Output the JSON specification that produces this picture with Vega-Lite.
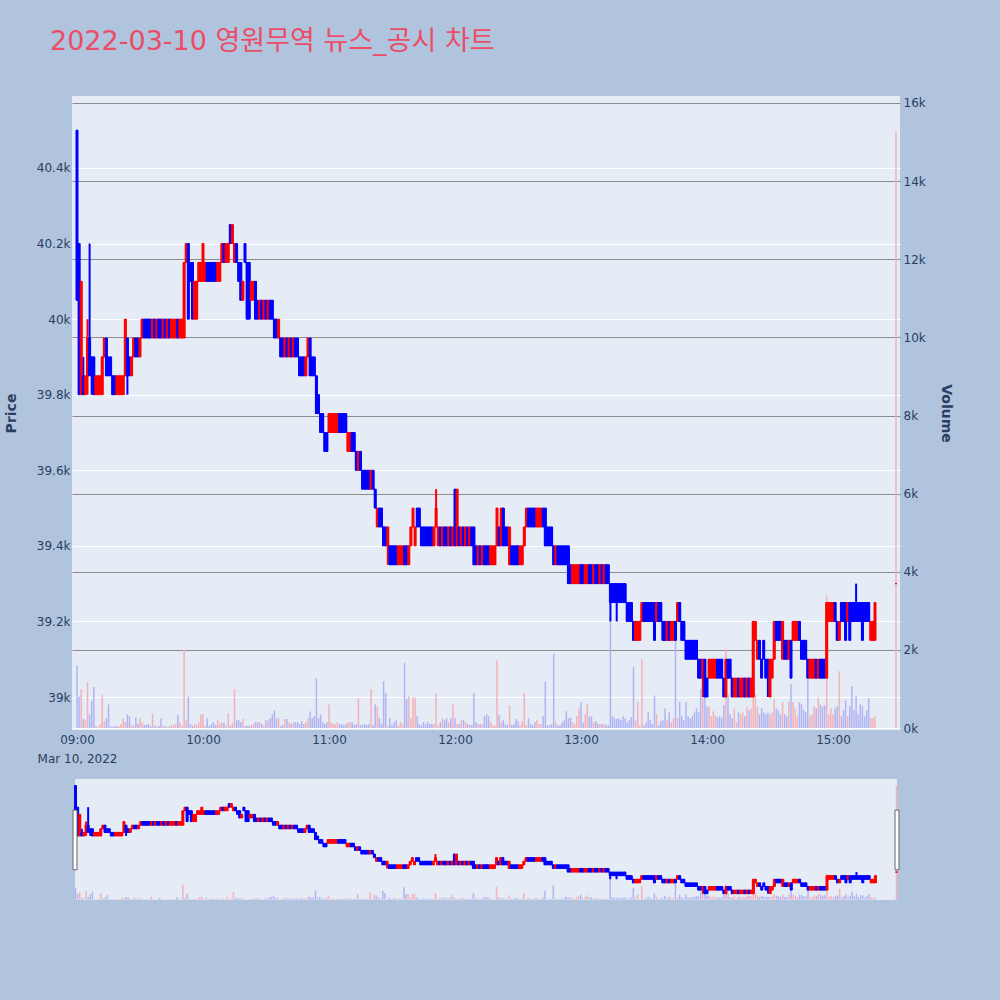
{
  "$schema": "https://vega.github.io/schema/vega-lite/v6.json",
  "autosize": {"type": "none"},
  "padding": {"left": 72, "top": 96, "right": 928, "bottom": 904},
  "background": "#b0c4de",
  "config": {
    "view": {"fill": "#e5ecf6", "stroke": null},
    "font": "DejaVu Sans",
    "axis": {"labelFont": "DejaVu Sans", "titleFont": "DejaVu Sans", "labelColor": "#2a3f5f", "titleColor": "#2a3f5f", "labelFontSize": 12, "titleFontSize": 14}
  },
  "title": {
    "text": "2022-03-10 영원무역 뉴스_공시 차트",
    "anchor": "start",
    "frame": "group",
    "font": "DejaVu Sans, Noto Sans CJK KR",
    "fontSize": 27,
    "fontWeight": "normal",
    "color": "#eb4d67",
    "dx": -22,
    "offset": 40
  },
  "data": {
    "values": [
      {"t":"2022-03-10T09:00","o":40500,"h":40500,"l":40050,"c":40050,"v":1600},
      {"t":"2022-03-10T09:01","o":40200,"h":40200,"l":39800,"c":39800,"v":800},
      {"t":"2022-03-10T09:02","o":39800,"h":40100,"l":39800,"c":40100,"v":1000},
      {"t":"2022-03-10T09:03","o":39850,"h":39900,"l":39800,"c":39800,"v":230},
      {"t":"2022-03-10T09:04","o":39800,"h":39850,"l":39800,"c":39850,"v":200},
      {"t":"2022-03-10T09:05","o":39850,"h":40000,"l":39800,"c":39950,"v":1170},
      {"t":"2022-03-10T09:06","o":39950,"h":40200,"l":39850,"c":39850,"v":350},
      {"t":"2022-03-10T09:07","o":39900,"h":39900,"l":39800,"c":39850,"v":700},
      {"t":"2022-03-10T09:08","o":39900,"h":39900,"l":39800,"c":39800,"v":1050},
      {"t":"2022-03-10T09:09","o":39800,"h":39850,"l":39800,"c":39850,"v":60},
      {"t":"2022-03-10T09:10","o":39800,"h":39850,"l":39800,"c":39850,"v":30},
      {"t":"2022-03-10T09:11","o":39800,"h":39850,"l":39800,"c":39850,"v":100},
      {"t":"2022-03-10T09:12","o":39800,"h":39900,"l":39800,"c":39900,"v":860},
      {"t":"2022-03-10T09:13","o":39900,"h":39950,"l":39900,"c":39950,"v":170},
      {"t":"2022-03-10T09:14","o":39950,"h":39950,"l":39850,"c":39850,"v":250},
      {"t":"2022-03-10T09:15","o":39900,"h":39900,"l":39850,"c":39850,"v":600},
      {"t":"2022-03-10T09:16","o":39900,"h":39900,"l":39850,"c":39850,"v":40},
      {"t":"2022-03-10T09:17","o":39850,"h":39850,"l":39800,"c":39800,"v":30},
      {"t":"2022-03-10T09:18","o":39850,"h":39850,"l":39800,"c":39800,"v":50},
      {"t":"2022-03-10T09:19","o":39800,"h":39850,"l":39800,"c":39850,"v":50},
      {"t":"2022-03-10T09:20","o":39800,"h":39850,"l":39800,"c":39850,"v":40},
      {"t":"2022-03-10T09:21","o":39800,"h":39850,"l":39800,"c":39850,"v":100},
      {"t":"2022-03-10T09:22","o":39800,"h":39850,"l":39800,"c":39850,"v":250},
      {"t":"2022-03-10T09:23","o":39850,"h":40000,"l":39850,"c":40000,"v":150},
      {"t":"2022-03-10T09:24","o":39950,"h":39950,"l":39800,"c":39850,"v":350},
      {"t":"2022-03-10T09:25","o":39900,"h":39900,"l":39850,"c":39850,"v":300},
      {"t":"2022-03-10T09:26","o":39850,"h":39900,"l":39850,"c":39900,"v":80},
      {"t":"2022-03-10T09:27","o":39900,"h":39950,"l":39900,"c":39950,"v":60},
      {"t":"2022-03-10T09:28","o":39950,"h":39950,"l":39900,"c":39900,"v":270},
      {"t":"2022-03-10T09:29","o":39950,"h":39950,"l":39900,"c":39900,"v":100},
      {"t":"2022-03-10T09:30","o":39900,"h":39950,"l":39900,"c":39950,"v":250},
      {"t":"2022-03-10T09:31","o":39950,"h":40000,"l":39950,"c":40000,"v":150},
      {"t":"2022-03-10T09:32","o":40000,"h":40000,"l":39950,"c":39950,"v":80},
      {"t":"2022-03-10T09:33","o":40000,"h":40000,"l":39950,"c":39950,"v":80},
      {"t":"2022-03-10T09:34","o":40000,"h":40000,"l":39950,"c":39950,"v":100},
      {"t":"2022-03-10T09:35","o":40000,"h":40000,"l":39950,"c":39950,"v":50},
      {"t":"2022-03-10T09:36","o":39950,"h":40000,"l":39950,"c":40000,"v":370},
      {"t":"2022-03-10T09:37","o":40000,"h":40000,"l":39950,"c":39950,"v":60},
      {"t":"2022-03-10T09:38","o":39950,"h":40000,"l":39950,"c":40000,"v":40},
      {"t":"2022-03-10T09:39","o":40000,"h":40000,"l":39950,"c":39950,"v":50},
      {"t":"2022-03-10T09:40","o":40000,"h":40000,"l":39950,"c":39950,"v":250},
      {"t":"2022-03-10T09:41","o":39950,"h":40000,"l":39950,"c":40000,"v":60},
      {"t":"2022-03-10T09:42","o":40000,"h":40000,"l":39950,"c":39950,"v":40},
      {"t":"2022-03-10T09:43","o":39950,"h":40000,"l":39950,"c":40000,"v":30},
      {"t":"2022-03-10T09:44","o":40000,"h":40000,"l":39950,"c":39950,"v":40},
      {"t":"2022-03-10T09:45","o":39950,"h":40000,"l":39950,"c":40000,"v":70},
      {"t":"2022-03-10T09:46","o":39950,"h":40000,"l":39950,"c":40000,"v":70},
      {"t":"2022-03-10T09:47","o":39950,"h":40000,"l":39950,"c":40000,"v":100},
      {"t":"2022-03-10T09:48","o":40000,"h":40000,"l":39950,"c":39950,"v":330},
      {"t":"2022-03-10T09:49","o":39950,"h":40000,"l":39950,"c":40000,"v":150},
      {"t":"2022-03-10T09:50","o":39950,"h":40000,"l":39950,"c":40000,"v":60},
      {"t":"2022-03-10T09:51","o":39950,"h":40150,"l":39950,"c":40150,"v":2000},
      {"t":"2022-03-10T09:52","o":40150,"h":40200,"l":40150,"c":40200,"v":200},
      {"t":"2022-03-10T09:53","o":40200,"h":40200,"l":40000,"c":40000,"v":800},
      {"t":"2022-03-10T09:54","o":40150,"h":40150,"l":40100,"c":40100,"v":100},
      {"t":"2022-03-10T09:55","o":40150,"h":40150,"l":40000,"c":40000,"v":60},
      {"t":"2022-03-10T09:56","o":40000,"h":40100,"l":40000,"c":40100,"v":100},
      {"t":"2022-03-10T09:57","o":40000,"h":40100,"l":40000,"c":40100,"v":80},
      {"t":"2022-03-10T09:58","o":40100,"h":40150,"l":40100,"c":40150,"v":150},
      {"t":"2022-03-10T09:59","o":40100,"h":40150,"l":40100,"c":40150,"v":350},
      {"t":"2022-03-10T10:00","o":40100,"h":40200,"l":40100,"c":40200,"v":350},
      {"t":"2022-03-10T10:01","o":40100,"h":40150,"l":40100,"c":40150,"v":60},
      {"t":"2022-03-10T10:02","o":40150,"h":40150,"l":40100,"c":40100,"v":250},
      {"t":"2022-03-10T10:03","o":40150,"h":40150,"l":40100,"c":40100,"v":50},
      {"t":"2022-03-10T10:04","o":40150,"h":40150,"l":40100,"c":40100,"v":100},
      {"t":"2022-03-10T10:05","o":40150,"h":40150,"l":40100,"c":40100,"v":150},
      {"t":"2022-03-10T10:06","o":40150,"h":40150,"l":40100,"c":40100,"v":80},
      {"t":"2022-03-10T10:07","o":40100,"h":40150,"l":40100,"c":40150,"v":200},
      {"t":"2022-03-10T10:08","o":40100,"h":40150,"l":40100,"c":40150,"v":100},
      {"t":"2022-03-10T10:09","o":40150,"h":40200,"l":40150,"c":40200,"v":150},
      {"t":"2022-03-10T10:10","o":40200,"h":40200,"l":40150,"c":40150,"v":130},
      {"t":"2022-03-10T10:11","o":40150,"h":40200,"l":40150,"c":40200,"v":50},
      {"t":"2022-03-10T10:12","o":40150,"h":40200,"l":40150,"c":40200,"v":380},
      {"t":"2022-03-10T10:13","o":40250,"h":40250,"l":40200,"c":40200,"v":60},
      {"t":"2022-03-10T10:14","o":40200,"h":40250,"l":40200,"c":40250,"v":120},
      {"t":"2022-03-10T10:15","o":40150,"h":40200,"l":40150,"c":40200,"v":1000},
      {"t":"2022-03-10T10:16","o":40200,"h":40200,"l":40150,"c":40150,"v":200},
      {"t":"2022-03-10T10:17","o":40150,"h":40150,"l":40100,"c":40100,"v":200},
      {"t":"2022-03-10T10:18","o":40150,"h":40150,"l":40050,"c":40050,"v":150},
      {"t":"2022-03-10T10:19","o":40050,"h":40100,"l":40050,"c":40100,"v":230},
      {"t":"2022-03-10T10:20","o":40200,"h":40200,"l":40150,"c":40150,"v":50},
      {"t":"2022-03-10T10:21","o":40150,"h":40150,"l":40000,"c":40000,"v":50},
      {"t":"2022-03-10T10:22","o":40150,"h":40150,"l":40000,"c":40000,"v":50},
      {"t":"2022-03-10T10:23","o":40050,"h":40100,"l":40050,"c":40100,"v":80},
      {"t":"2022-03-10T10:24","o":40050,"h":40100,"l":40050,"c":40100,"v":100},
      {"t":"2022-03-10T10:25","o":40100,"h":40100,"l":40000,"c":40000,"v":150},
      {"t":"2022-03-10T10:26","o":40050,"h":40050,"l":40000,"c":40000,"v":150},
      {"t":"2022-03-10T10:27","o":40000,"h":40050,"l":40000,"c":40050,"v":150},
      {"t":"2022-03-10T10:28","o":40050,"h":40050,"l":40000,"c":40000,"v":100},
      {"t":"2022-03-10T10:29","o":40000,"h":40050,"l":40000,"c":40050,"v":50},
      {"t":"2022-03-10T10:30","o":40050,"h":40050,"l":40000,"c":40000,"v":200},
      {"t":"2022-03-10T10:31","o":40000,"h":40050,"l":40000,"c":40050,"v":200},
      {"t":"2022-03-10T10:32","o":40050,"h":40050,"l":40000,"c":40000,"v":250},
      {"t":"2022-03-10T10:33","o":40050,"h":40050,"l":40000,"c":40000,"v":350},
      {"t":"2022-03-10T10:34","o":40000,"h":40000,"l":39950,"c":39950,"v":450},
      {"t":"2022-03-10T10:35","o":40000,"h":40000,"l":39950,"c":39950,"v":250},
      {"t":"2022-03-10T10:36","o":39950,"h":40000,"l":39950,"c":40000,"v":250},
      {"t":"2022-03-10T10:37","o":39950,"h":39950,"l":39900,"c":39900,"v":50},
      {"t":"2022-03-10T10:38","o":39950,"h":39950,"l":39900,"c":39900,"v":80},
      {"t":"2022-03-10T10:39","o":39900,"h":39950,"l":39900,"c":39950,"v":230},
      {"t":"2022-03-10T10:40","o":39950,"h":39950,"l":39900,"c":39900,"v":230},
      {"t":"2022-03-10T10:41","o":39900,"h":39950,"l":39900,"c":39950,"v":150},
      {"t":"2022-03-10T10:42","o":39950,"h":39950,"l":39900,"c":39900,"v":100},
      {"t":"2022-03-10T10:43","o":39900,"h":39950,"l":39900,"c":39950,"v":150},
      {"t":"2022-03-10T10:44","o":39950,"h":39950,"l":39900,"c":39900,"v":150},
      {"t":"2022-03-10T10:45","o":39950,"h":39950,"l":39900,"c":39900,"v":150},
      {"t":"2022-03-10T10:46","o":39900,"h":39900,"l":39850,"c":39850,"v":100},
      {"t":"2022-03-10T10:47","o":39900,"h":39900,"l":39850,"c":39850,"v":180},
      {"t":"2022-03-10T10:48","o":39900,"h":39900,"l":39850,"c":39850,"v":100},
      {"t":"2022-03-10T10:49","o":39850,"h":39900,"l":39850,"c":39900,"v":150},
      {"t":"2022-03-10T10:50","o":39900,"h":39950,"l":39900,"c":39950,"v":250},
      {"t":"2022-03-10T10:51","o":39950,"h":39950,"l":39850,"c":39850,"v":420},
      {"t":"2022-03-10T10:52","o":39900,"h":39900,"l":39850,"c":39850,"v":250},
      {"t":"2022-03-10T10:53","o":39900,"h":39900,"l":39850,"c":39850,"v":300},
      {"t":"2022-03-10T10:54","o":39850,"h":39850,"l":39750,"c":39750,"v":1270},
      {"t":"2022-03-10T10:55","o":39800,"h":39800,"l":39750,"c":39750,"v":250},
      {"t":"2022-03-10T10:56","o":39750,"h":39750,"l":39700,"c":39700,"v":350},
      {"t":"2022-03-10T10:57","o":39750,"h":39750,"l":39700,"c":39700,"v":150},
      {"t":"2022-03-10T10:58","o":39700,"h":39700,"l":39650,"c":39650,"v":100},
      {"t":"2022-03-10T10:59","o":39700,"h":39700,"l":39650,"c":39650,"v":150},
      {"t":"2022-03-10T11:00","o":39700,"h":39750,"l":39700,"c":39750,"v":600},
      {"t":"2022-03-10T11:01","o":39700,"h":39750,"l":39700,"c":39750,"v":150},
      {"t":"2022-03-10T11:02","o":39700,"h":39750,"l":39700,"c":39750,"v":100},
      {"t":"2022-03-10T11:03","o":39700,"h":39750,"l":39700,"c":39750,"v":100},
      {"t":"2022-03-10T11:04","o":39700,"h":39750,"l":39700,"c":39750,"v":150},
      {"t":"2022-03-10T11:05","o":39750,"h":39750,"l":39700,"c":39700,"v":100},
      {"t":"2022-03-10T11:06","o":39750,"h":39750,"l":39700,"c":39700,"v":100},
      {"t":"2022-03-10T11:07","o":39750,"h":39750,"l":39700,"c":39700,"v":80},
      {"t":"2022-03-10T11:08","o":39750,"h":39750,"l":39700,"c":39700,"v":100},
      {"t":"2022-03-10T11:09","o":39650,"h":39700,"l":39650,"c":39700,"v":150},
      {"t":"2022-03-10T11:10","o":39650,"h":39700,"l":39650,"c":39700,"v":150},
      {"t":"2022-03-10T11:11","o":39700,"h":39700,"l":39650,"c":39650,"v":150},
      {"t":"2022-03-10T11:12","o":39700,"h":39700,"l":39650,"c":39650,"v":80},
      {"t":"2022-03-10T11:13","o":39650,"h":39650,"l":39600,"c":39600,"v":100},
      {"t":"2022-03-10T11:14","o":39600,"h":39650,"l":39600,"c":39650,"v":760},
      {"t":"2022-03-10T11:15","o":39650,"h":39650,"l":39600,"c":39600,"v":80},
      {"t":"2022-03-10T11:16","o":39600,"h":39600,"l":39550,"c":39550,"v":80},
      {"t":"2022-03-10T11:17","o":39600,"h":39600,"l":39550,"c":39550,"v":100},
      {"t":"2022-03-10T11:18","o":39600,"h":39600,"l":39550,"c":39550,"v":80},
      {"t":"2022-03-10T11:19","o":39600,"h":39600,"l":39550,"c":39550,"v":100},
      {"t":"2022-03-10T11:20","o":39550,"h":39600,"l":39550,"c":39600,"v":1000},
      {"t":"2022-03-10T11:21","o":39600,"h":39600,"l":39550,"c":39550,"v":80},
      {"t":"2022-03-10T11:22","o":39550,"h":39550,"l":39500,"c":39500,"v":600},
      {"t":"2022-03-10T11:23","o":39450,"h":39500,"l":39450,"c":39500,"v":550},
      {"t":"2022-03-10T11:24","o":39500,"h":39500,"l":39450,"c":39450,"v":250},
      {"t":"2022-03-10T11:25","o":39500,"h":39500,"l":39450,"c":39450,"v":100},
      {"t":"2022-03-10T11:26","o":39450,"h":39450,"l":39400,"c":39400,"v":1200},
      {"t":"2022-03-10T11:27","o":39450,"h":39450,"l":39400,"c":39400,"v":900},
      {"t":"2022-03-10T11:28","o":39400,"h":39450,"l":39350,"c":39450,"v":50},
      {"t":"2022-03-10T11:29","o":39400,"h":39400,"l":39350,"c":39350,"v":250},
      {"t":"2022-03-10T11:30","o":39400,"h":39400,"l":39350,"c":39350,"v":80},
      {"t":"2022-03-10T11:31","o":39400,"h":39400,"l":39350,"c":39350,"v":150},
      {"t":"2022-03-10T11:32","o":39400,"h":39400,"l":39350,"c":39350,"v":200},
      {"t":"2022-03-10T11:33","o":39350,"h":39400,"l":39350,"c":39400,"v":60},
      {"t":"2022-03-10T11:34","o":39350,"h":39400,"l":39350,"c":39400,"v":150},
      {"t":"2022-03-10T11:35","o":39350,"h":39400,"l":39350,"c":39400,"v":100},
      {"t":"2022-03-10T11:36","o":39400,"h":39400,"l":39350,"c":39350,"v":1670},
      {"t":"2022-03-10T11:37","o":39400,"h":39400,"l":39350,"c":39350,"v":740},
      {"t":"2022-03-10T11:38","o":39350,"h":39400,"l":39350,"c":39400,"v":800},
      {"t":"2022-03-10T11:39","o":39400,"h":39450,"l":39400,"c":39450,"v":250},
      {"t":"2022-03-10T11:40","o":39450,"h":39500,"l":39450,"c":39500,"v":780},
      {"t":"2022-03-10T11:41","o":39400,"h":39450,"l":39400,"c":39450,"v":780},
      {"t":"2022-03-10T11:42","o":39500,"h":39500,"l":39450,"c":39450,"v":300},
      {"t":"2022-03-10T11:43","o":39500,"h":39500,"l":39450,"c":39450,"v":100},
      {"t":"2022-03-10T11:44","o":39450,"h":39450,"l":39400,"c":39400,"v":60},
      {"t":"2022-03-10T11:45","o":39450,"h":39450,"l":39400,"c":39400,"v":150},
      {"t":"2022-03-10T11:46","o":39450,"h":39450,"l":39400,"c":39400,"v":100},
      {"t":"2022-03-10T11:47","o":39450,"h":39450,"l":39400,"c":39400,"v":150},
      {"t":"2022-03-10T11:48","o":39450,"h":39450,"l":39400,"c":39400,"v":100},
      {"t":"2022-03-10T11:49","o":39450,"h":39450,"l":39400,"c":39400,"v":100},
      {"t":"2022-03-10T11:50","o":39400,"h":39450,"l":39400,"c":39450,"v":100},
      {"t":"2022-03-10T11:51","o":39450,"h":39550,"l":39450,"c":39500,"v":880},
      {"t":"2022-03-10T11:52","o":39400,"h":39450,"l":39400,"c":39450,"v":60},
      {"t":"2022-03-10T11:53","o":39450,"h":39450,"l":39400,"c":39400,"v":150},
      {"t":"2022-03-10T11:54","o":39400,"h":39450,"l":39400,"c":39450,"v":250},
      {"t":"2022-03-10T11:55","o":39450,"h":39450,"l":39400,"c":39400,"v":200},
      {"t":"2022-03-10T11:56","o":39450,"h":39450,"l":39400,"c":39400,"v":250},
      {"t":"2022-03-10T11:57","o":39400,"h":39450,"l":39400,"c":39450,"v":150},
      {"t":"2022-03-10T11:58","o":39450,"h":39450,"l":39400,"c":39400,"v":250},
      {"t":"2022-03-10T11:59","o":39400,"h":39450,"l":39400,"c":39450,"v":600},
      {"t":"2022-03-10T12:00","o":39550,"h":39550,"l":39400,"c":39400,"v":250},
      {"t":"2022-03-10T12:01","o":39400,"h":39550,"l":39400,"c":39550,"v":100},
      {"t":"2022-03-10T12:02","o":39450,"h":39450,"l":39400,"c":39400,"v":100},
      {"t":"2022-03-10T12:03","o":39400,"h":39450,"l":39400,"c":39450,"v":200},
      {"t":"2022-03-10T12:04","o":39450,"h":39450,"l":39400,"c":39400,"v":200},
      {"t":"2022-03-10T12:05","o":39400,"h":39450,"l":39400,"c":39450,"v":150},
      {"t":"2022-03-10T12:06","o":39450,"h":39450,"l":39400,"c":39400,"v":100},
      {"t":"2022-03-10T12:07","o":39400,"h":39450,"l":39400,"c":39450,"v":80},
      {"t":"2022-03-10T12:08","o":39450,"h":39450,"l":39400,"c":39400,"v":80},
      {"t":"2022-03-10T12:09","o":39450,"h":39450,"l":39350,"c":39350,"v":900},
      {"t":"2022-03-10T12:10","o":39400,"h":39400,"l":39350,"c":39350,"v":150},
      {"t":"2022-03-10T12:11","o":39350,"h":39400,"l":39350,"c":39400,"v":100},
      {"t":"2022-03-10T12:12","o":39400,"h":39400,"l":39350,"c":39350,"v":100},
      {"t":"2022-03-10T12:13","o":39350,"h":39400,"l":39350,"c":39400,"v":100},
      {"t":"2022-03-10T12:14","o":39400,"h":39400,"l":39350,"c":39350,"v":300},
      {"t":"2022-03-10T12:15","o":39400,"h":39400,"l":39350,"c":39350,"v":350},
      {"t":"2022-03-10T12:16","o":39400,"h":39400,"l":39350,"c":39350,"v":300},
      {"t":"2022-03-10T12:17","o":39350,"h":39400,"l":39350,"c":39400,"v":150},
      {"t":"2022-03-10T12:18","o":39350,"h":39400,"l":39350,"c":39400,"v":80},
      {"t":"2022-03-10T12:19","o":39350,"h":39400,"l":39350,"c":39400,"v":60},
      {"t":"2022-03-10T12:20","o":39400,"h":39500,"l":39400,"c":39500,"v":1730},
      {"t":"2022-03-10T12:21","o":39450,"h":39450,"l":39400,"c":39400,"v":330},
      {"t":"2022-03-10T12:22","o":39400,"h":39500,"l":39400,"c":39500,"v":150},
      {"t":"2022-03-10T12:23","o":39500,"h":39500,"l":39400,"c":39400,"v":200},
      {"t":"2022-03-10T12:24","o":39450,"h":39450,"l":39400,"c":39400,"v":100},
      {"t":"2022-03-10T12:25","o":39450,"h":39450,"l":39400,"c":39400,"v":80},
      {"t":"2022-03-10T12:26","o":39350,"h":39450,"l":39350,"c":39450,"v":580},
      {"t":"2022-03-10T12:27","o":39400,"h":39400,"l":39350,"c":39350,"v":80},
      {"t":"2022-03-10T12:28","o":39400,"h":39400,"l":39350,"c":39350,"v":100},
      {"t":"2022-03-10T12:29","o":39400,"h":39400,"l":39350,"c":39350,"v":230},
      {"t":"2022-03-10T12:30","o":39400,"h":39400,"l":39350,"c":39350,"v":170},
      {"t":"2022-03-10T12:31","o":39350,"h":39400,"l":39350,"c":39400,"v":70},
      {"t":"2022-03-10T12:32","o":39350,"h":39400,"l":39350,"c":39400,"v":170},
      {"t":"2022-03-10T12:33","o":39400,"h":39450,"l":39400,"c":39450,"v":900},
      {"t":"2022-03-10T12:34","o":39450,"h":39500,"l":39450,"c":39500,"v":70},
      {"t":"2022-03-10T12:35","o":39500,"h":39500,"l":39450,"c":39450,"v":250},
      {"t":"2022-03-10T12:36","o":39500,"h":39500,"l":39450,"c":39450,"v":100},
      {"t":"2022-03-10T12:37","o":39500,"h":39500,"l":39450,"c":39450,"v":70},
      {"t":"2022-03-10T12:38","o":39500,"h":39500,"l":39450,"c":39450,"v":150},
      {"t":"2022-03-10T12:39","o":39450,"h":39500,"l":39450,"c":39500,"v":200},
      {"t":"2022-03-10T12:40","o":39450,"h":39500,"l":39450,"c":39500,"v":100},
      {"t":"2022-03-10T12:41","o":39450,"h":39500,"l":39450,"c":39500,"v":100},
      {"t":"2022-03-10T12:42","o":39500,"h":39500,"l":39450,"c":39450,"v":300},
      {"t":"2022-03-10T12:43","o":39500,"h":39500,"l":39400,"c":39400,"v":1190},
      {"t":"2022-03-10T12:44","o":39450,"h":39450,"l":39400,"c":39400,"v":70},
      {"t":"2022-03-10T12:45","o":39450,"h":39450,"l":39400,"c":39400,"v":70},
      {"t":"2022-03-10T12:46","o":39450,"h":39450,"l":39400,"c":39400,"v":100},
      {"t":"2022-03-10T12:47","o":39400,"h":39400,"l":39350,"c":39350,"v":1900},
      {"t":"2022-03-10T12:48","o":39350,"h":39400,"l":39350,"c":39400,"v":150},
      {"t":"2022-03-10T12:49","o":39400,"h":39400,"l":39350,"c":39350,"v":70},
      {"t":"2022-03-10T12:50","o":39400,"h":39400,"l":39350,"c":39350,"v":70},
      {"t":"2022-03-10T12:51","o":39400,"h":39400,"l":39350,"c":39350,"v":150},
      {"t":"2022-03-10T12:52","o":39400,"h":39400,"l":39350,"c":39350,"v":200},
      {"t":"2022-03-10T12:53","o":39400,"h":39400,"l":39350,"c":39350,"v":430},
      {"t":"2022-03-10T12:54","o":39400,"h":39400,"l":39300,"c":39300,"v":250},
      {"t":"2022-03-10T12:55","o":39350,"h":39350,"l":39300,"c":39300,"v":270},
      {"t":"2022-03-10T12:56","o":39300,"h":39350,"l":39300,"c":39350,"v":150},
      {"t":"2022-03-10T12:57","o":39300,"h":39350,"l":39300,"c":39350,"v":100},
      {"t":"2022-03-10T12:58","o":39300,"h":39350,"l":39300,"c":39350,"v":300},
      {"t":"2022-03-10T12:59","o":39300,"h":39350,"l":39300,"c":39350,"v":500},
      {"t":"2022-03-10T13:00","o":39350,"h":39350,"l":39300,"c":39300,"v":660},
      {"t":"2022-03-10T13:01","o":39350,"h":39350,"l":39300,"c":39300,"v":150},
      {"t":"2022-03-10T13:02","o":39300,"h":39350,"l":39300,"c":39350,"v":350},
      {"t":"2022-03-10T13:03","o":39300,"h":39350,"l":39300,"c":39350,"v":600},
      {"t":"2022-03-10T13:04","o":39350,"h":39350,"l":39300,"c":39300,"v":300},
      {"t":"2022-03-10T13:05","o":39350,"h":39350,"l":39300,"c":39300,"v":300},
      {"t":"2022-03-10T13:06","o":39300,"h":39350,"l":39300,"c":39350,"v":150},
      {"t":"2022-03-10T13:07","o":39350,"h":39350,"l":39300,"c":39300,"v":180},
      {"t":"2022-03-10T13:08","o":39350,"h":39350,"l":39300,"c":39300,"v":100},
      {"t":"2022-03-10T13:09","o":39300,"h":39350,"l":39300,"c":39350,"v":100},
      {"t":"2022-03-10T13:10","o":39350,"h":39350,"l":39300,"c":39300,"v":100},
      {"t":"2022-03-10T13:11","o":39300,"h":39350,"l":39300,"c":39350,"v":100},
      {"t":"2022-03-10T13:12","o":39350,"h":39350,"l":39300,"c":39300,"v":70},
      {"t":"2022-03-10T13:13","o":39350,"h":39350,"l":39300,"c":39300,"v":70},
      {"t":"2022-03-10T13:14","o":39300,"h":39300,"l":39200,"c":39250,"v":2900},
      {"t":"2022-03-10T13:15","o":39300,"h":39300,"l":39250,"c":39250,"v":300},
      {"t":"2022-03-10T13:16","o":39300,"h":39300,"l":39250,"c":39250,"v":250},
      {"t":"2022-03-10T13:17","o":39300,"h":39300,"l":39200,"c":39250,"v":230},
      {"t":"2022-03-10T13:18","o":39300,"h":39300,"l":39250,"c":39250,"v":250},
      {"t":"2022-03-10T13:19","o":39300,"h":39300,"l":39250,"c":39250,"v":200},
      {"t":"2022-03-10T13:20","o":39300,"h":39300,"l":39250,"c":39250,"v":300},
      {"t":"2022-03-10T13:21","o":39300,"h":39300,"l":39250,"c":39250,"v":250},
      {"t":"2022-03-10T13:22","o":39250,"h":39250,"l":39200,"c":39200,"v":150},
      {"t":"2022-03-10T13:23","o":39250,"h":39250,"l":39200,"c":39200,"v":200},
      {"t":"2022-03-10T13:24","o":39250,"h":39250,"l":39200,"c":39200,"v":280},
      {"t":"2022-03-10T13:25","o":39200,"h":39200,"l":39150,"c":39150,"v":1570},
      {"t":"2022-03-10T13:26","o":39150,"h":39200,"l":39150,"c":39200,"v":200},
      {"t":"2022-03-10T13:27","o":39150,"h":39200,"l":39150,"c":39200,"v":660},
      {"t":"2022-03-10T13:28","o":39150,"h":39200,"l":39150,"c":39200,"v":70},
      {"t":"2022-03-10T13:29","o":39200,"h":39250,"l":39200,"c":39250,"v":1760},
      {"t":"2022-03-10T13:30","o":39250,"h":39250,"l":39200,"c":39200,"v":70},
      {"t":"2022-03-10T13:31","o":39250,"h":39250,"l":39200,"c":39200,"v":150},
      {"t":"2022-03-10T13:32","o":39250,"h":39250,"l":39200,"c":39200,"v":400},
      {"t":"2022-03-10T13:33","o":39250,"h":39250,"l":39200,"c":39200,"v":200},
      {"t":"2022-03-10T13:34","o":39250,"h":39250,"l":39200,"c":39200,"v":100},
      {"t":"2022-03-10T13:35","o":39250,"h":39250,"l":39150,"c":39150,"v":830},
      {"t":"2022-03-10T13:36","o":39200,"h":39250,"l":39200,"c":39250,"v":350},
      {"t":"2022-03-10T13:37","o":39250,"h":39250,"l":39200,"c":39200,"v":70},
      {"t":"2022-03-10T13:38","o":39250,"h":39250,"l":39200,"c":39200,"v":170},
      {"t":"2022-03-10T13:39","o":39200,"h":39200,"l":39150,"c":39150,"v":200},
      {"t":"2022-03-10T13:40","o":39200,"h":39200,"l":39150,"c":39150,"v":500},
      {"t":"2022-03-10T13:41","o":39150,"h":39200,"l":39150,"c":39200,"v":200},
      {"t":"2022-03-10T13:42","o":39200,"h":39200,"l":39150,"c":39150,"v":400},
      {"t":"2022-03-10T13:43","o":39150,"h":39200,"l":39150,"c":39200,"v":150},
      {"t":"2022-03-10T13:44","o":39150,"h":39200,"l":39150,"c":39200,"v":250},
      {"t":"2022-03-10T13:45","o":39200,"h":39200,"l":39150,"c":39150,"v":2460},
      {"t":"2022-03-10T13:46","o":39200,"h":39250,"l":39200,"c":39250,"v":250},
      {"t":"2022-03-10T13:47","o":39250,"h":39250,"l":39200,"c":39200,"v":660},
      {"t":"2022-03-10T13:48","o":39200,"h":39200,"l":39150,"c":39150,"v":300},
      {"t":"2022-03-10T13:49","o":39200,"h":39200,"l":39150,"c":39150,"v":200},
      {"t":"2022-03-10T13:50","o":39150,"h":39150,"l":39100,"c":39100,"v":660},
      {"t":"2022-03-10T13:51","o":39150,"h":39150,"l":39100,"c":39100,"v":300},
      {"t":"2022-03-10T13:52","o":39150,"h":39150,"l":39100,"c":39100,"v":250},
      {"t":"2022-03-10T13:53","o":39150,"h":39150,"l":39100,"c":39100,"v":300},
      {"t":"2022-03-10T13:54","o":39150,"h":39150,"l":39100,"c":39100,"v":400},
      {"t":"2022-03-10T13:55","o":39150,"h":39150,"l":39100,"c":39100,"v":500},
      {"t":"2022-03-10T13:56","o":39100,"h":39100,"l":39050,"c":39050,"v":400},
      {"t":"2022-03-10T13:57","o":39100,"h":39100,"l":39050,"c":39050,"v":1000},
      {"t":"2022-03-10T13:58","o":39050,"h":39100,"l":39000,"c":39100,"v":1000},
      {"t":"2022-03-10T13:59","o":39100,"h":39100,"l":39000,"c":39000,"v":1400},
      {"t":"2022-03-10T14:00","o":39050,"h":39050,"l":39000,"c":39000,"v":550},
      {"t":"2022-03-10T14:01","o":39050,"h":39100,"l":39050,"c":39100,"v":550},
      {"t":"2022-03-10T14:02","o":39050,"h":39100,"l":39050,"c":39100,"v":300},
      {"t":"2022-03-10T14:03","o":39050,"h":39100,"l":39050,"c":39100,"v":430},
      {"t":"2022-03-10T14:04","o":39050,"h":39100,"l":39050,"c":39100,"v":330},
      {"t":"2022-03-10T14:05","o":39100,"h":39100,"l":39050,"c":39050,"v":270},
      {"t":"2022-03-10T14:06","o":39100,"h":39100,"l":39050,"c":39050,"v":300},
      {"t":"2022-03-10T14:07","o":39100,"h":39100,"l":39050,"c":39050,"v":270},
      {"t":"2022-03-10T14:08","o":39050,"h":39050,"l":39000,"c":39000,"v":580},
      {"t":"2022-03-10T14:09","o":39000,"h":39100,"l":39000,"c":39100,"v":2030},
      {"t":"2022-03-10T14:10","o":39100,"h":39100,"l":39050,"c":39050,"v":860},
      {"t":"2022-03-10T14:11","o":39100,"h":39100,"l":39050,"c":39050,"v":350},
      {"t":"2022-03-10T14:12","o":39050,"h":39050,"l":39000,"c":39000,"v":250},
      {"t":"2022-03-10T14:13","o":39000,"h":39050,"l":39000,"c":39050,"v":500},
      {"t":"2022-03-10T14:14","o":39000,"h":39050,"l":39000,"c":39050,"v":150},
      {"t":"2022-03-10T14:15","o":39050,"h":39050,"l":39000,"c":39000,"v":400},
      {"t":"2022-03-10T14:16","o":39000,"h":39050,"l":39000,"c":39050,"v":350},
      {"t":"2022-03-10T14:17","o":39000,"h":39050,"l":39000,"c":39050,"v":400},
      {"t":"2022-03-10T14:18","o":39050,"h":39050,"l":39000,"c":39000,"v":300},
      {"t":"2022-03-10T14:19","o":39000,"h":39050,"l":39000,"c":39050,"v":550},
      {"t":"2022-03-10T14:20","o":39050,"h":39050,"l":39000,"c":39000,"v":450},
      {"t":"2022-03-10T14:21","o":39000,"h":39050,"l":39000,"c":39050,"v":500},
      {"t":"2022-03-10T14:22","o":39000,"h":39200,"l":39000,"c":39200,"v":1500},
      {"t":"2022-03-10T14:23","o":39150,"h":39200,"l":39150,"c":39200,"v":870},
      {"t":"2022-03-10T14:24","o":39100,"h":39150,"l":39100,"c":39150,"v":550},
      {"t":"2022-03-10T14:25","o":39150,"h":39150,"l":39100,"c":39100,"v":350},
      {"t":"2022-03-10T14:26","o":39100,"h":39100,"l":39050,"c":39050,"v":500},
      {"t":"2022-03-10T14:27","o":39150,"h":39150,"l":39100,"c":39100,"v":400},
      {"t":"2022-03-10T14:28","o":39100,"h":39100,"l":39050,"c":39050,"v":350},
      {"t":"2022-03-10T14:29","o":39100,"h":39100,"l":39000,"c":39050,"v":400},
      {"t":"2022-03-10T14:30","o":39000,"h":39100,"l":39000,"c":39100,"v":350},
      {"t":"2022-03-10T14:31","o":39050,"h":39100,"l":39050,"c":39100,"v":400},
      {"t":"2022-03-10T14:32","o":39100,"h":39200,"l":39100,"c":39200,"v":740},
      {"t":"2022-03-10T14:33","o":39200,"h":39200,"l":39150,"c":39150,"v":500},
      {"t":"2022-03-10T14:34","o":39200,"h":39200,"l":39150,"c":39150,"v":450},
      {"t":"2022-03-10T14:35","o":39200,"h":39200,"l":39150,"c":39150,"v":350},
      {"t":"2022-03-10T14:36","o":39100,"h":39200,"l":39100,"c":39200,"v":660},
      {"t":"2022-03-10T14:37","o":39150,"h":39150,"l":39100,"c":39100,"v":350},
      {"t":"2022-03-10T14:38","o":39150,"h":39150,"l":39100,"c":39100,"v":300},
      {"t":"2022-03-10T14:39","o":39100,"h":39150,"l":39100,"c":39150,"v":680},
      {"t":"2022-03-10T14:40","o":39150,"h":39150,"l":39050,"c":39050,"v":1120},
      {"t":"2022-03-10T14:41","o":39150,"h":39200,"l":39150,"c":39200,"v":660},
      {"t":"2022-03-10T14:42","o":39150,"h":39200,"l":39150,"c":39200,"v":500},
      {"t":"2022-03-10T14:43","o":39150,"h":39200,"l":39150,"c":39200,"v":300},
      {"t":"2022-03-10T14:44","o":39200,"h":39200,"l":39150,"c":39150,"v":660},
      {"t":"2022-03-10T14:45","o":39150,"h":39150,"l":39100,"c":39100,"v":610},
      {"t":"2022-03-10T14:46","o":39150,"h":39150,"l":39100,"c":39100,"v":460},
      {"t":"2022-03-10T14:47","o":39150,"h":39150,"l":39100,"c":39100,"v":400},
      {"t":"2022-03-10T14:48","o":39100,"h":39100,"l":39050,"c":39050,"v":1250},
      {"t":"2022-03-10T14:49","o":39050,"h":39100,"l":39050,"c":39100,"v":300},
      {"t":"2022-03-10T14:50","o":39050,"h":39100,"l":39050,"c":39100,"v":350},
      {"t":"2022-03-10T14:51","o":39050,"h":39100,"l":39050,"c":39100,"v":550},
      {"t":"2022-03-10T14:52","o":39100,"h":39100,"l":39050,"c":39050,"v":500},
      {"t":"2022-03-10T14:53","o":39050,"h":39100,"l":39050,"c":39100,"v":780},
      {"t":"2022-03-10T14:54","o":39100,"h":39100,"l":39050,"c":39050,"v":600},
      {"t":"2022-03-10T14:55","o":39100,"h":39100,"l":39050,"c":39050,"v":550},
      {"t":"2022-03-10T14:56","o":39100,"h":39100,"l":39050,"c":39050,"v":580},
      {"t":"2022-03-10T14:57","o":39050,"h":39250,"l":39050,"c":39250,"v":3400},
      {"t":"2022-03-10T14:58","o":39200,"h":39250,"l":39200,"c":39250,"v":350},
      {"t":"2022-03-10T14:59","o":39200,"h":39250,"l":39200,"c":39250,"v":500},
      {"t":"2022-03-10T15:00","o":39200,"h":39250,"l":39200,"c":39250,"v":350},
      {"t":"2022-03-10T15:01","o":39250,"h":39250,"l":39200,"c":39200,"v":500},
      {"t":"2022-03-10T15:02","o":39200,"h":39200,"l":39150,"c":39150,"v":560},
      {"t":"2022-03-10T15:03","o":39150,"h":39200,"l":39150,"c":39200,"v":1450},
      {"t":"2022-03-10T15:04","o":39250,"h":39250,"l":39200,"c":39200,"v":300},
      {"t":"2022-03-10T15:05","o":39250,"h":39250,"l":39200,"c":39200,"v":460},
      {"t":"2022-03-10T15:06","o":39250,"h":39250,"l":39150,"c":39150,"v":710},
      {"t":"2022-03-10T15:07","o":39200,"h":39250,"l":39200,"c":39250,"v":300},
      {"t":"2022-03-10T15:08","o":39250,"h":39250,"l":39150,"c":39150,"v":560},
      {"t":"2022-03-10T15:09","o":39250,"h":39250,"l":39200,"c":39200,"v":1070},
      {"t":"2022-03-10T15:10","o":39250,"h":39250,"l":39200,"c":39200,"v":460},
      {"t":"2022-03-10T15:11","o":39250,"h":39300,"l":39200,"c":39200,"v":810},
      {"t":"2022-03-10T15:12","o":39250,"h":39250,"l":39200,"c":39200,"v":350},
      {"t":"2022-03-10T15:13","o":39250,"h":39250,"l":39200,"c":39200,"v":610},
      {"t":"2022-03-10T15:14","o":39250,"h":39250,"l":39150,"c":39150,"v":560},
      {"t":"2022-03-10T15:15","o":39250,"h":39250,"l":39200,"c":39200,"v":300},
      {"t":"2022-03-10T15:16","o":39250,"h":39250,"l":39200,"c":39200,"v":460},
      {"t":"2022-03-10T15:17","o":39250,"h":39250,"l":39200,"c":39200,"v":760},
      {"t":"2022-03-10T15:18","o":39150,"h":39200,"l":39150,"c":39200,"v":250},
      {"t":"2022-03-10T15:19","o":39150,"h":39200,"l":39150,"c":39200,"v":250},
      {"t":"2022-03-10T15:20","o":39150,"h":39250,"l":39150,"c":39250,"v":300},
      {"t":"2022-03-10T15:30","o":39300,"h":39300,"l":39300,"c":39300,"v":15270}
    ]
  },
  "spacing": 49,
  "bounds": "flush",
  "center": true,
  "resolve": {"scale": {"x": "independent", "y": "independent"}},
  "vconcat": [
    {
      "width": 828,
      "height": 634,
      "layer": [
        {
          "mark": {"type": "bar", "size": 1.5},
          "encoding": {
            "x": {
              "field": "t", "type": "temporal", "title": "Mar 10, 2022",
              "scale": {"padding": 0, "domain": [{"year": 2022, "month": 3, "date": 10, "hours": 8, "minutes": 57, "seconds": 37}, {"year": 2022, "month": 3, "date": 10, "hours": 15, "minutes": 31, "seconds": 54}]},
              "axis": {
                "orient": "bottom", "grid": false, "domain": false, "ticks": false,
                "values": [
                  {"year": 2022, "month": 3, "date": 10, "hours": 9},
                  {"year": 2022, "month": 3, "date": 10, "hours": 10},
                  {"year": 2022, "month": 3, "date": 10, "hours": 11},
                  {"year": 2022, "month": 3, "date": 10, "hours": 12},
                  {"year": 2022, "month": 3, "date": 10, "hours": 13},
                  {"year": 2022, "month": 3, "date": 10, "hours": 14},
                  {"year": 2022, "month": 3, "date": 10, "hours": 15}
                ],
                "format": "%H:%M",
                "labelPadding": 4, "labelFlush": false, "labelOverlap": false,
                "titleX": 5, "titleY": 28, "titleAlign": "center", "titleBaseline": "middle",
                "titleFontSize": 12, "titleFontWeight": "normal"
              }
            },
            "y": {
              "field": "v", "type": "quantitative", "title": "Volume",
              "scale": {"domain": [-51, 16179], "nice": false, "zero": false},
              "axis": {
                "orient": "right", "values": [0, 2000, 4000, 6000, 8000, 10000, 12000, 14000, 16000], "format": "~s",
                "grid": true, "gridColor": {"condition": {"test": "datum.value == 0", "value": "#ffffff"}, "value": "#8c8c8c"}, "gridWidth": 1,
                "domain": false, "ticks": false, "labelPadding": 3, "titlePadding": 13, "titleFontWeight": "bold"
              }
            },
            "color": {"condition": {"test": "datum.c >= datum.o", "value": "#f3b1ba"}, "value": "#b1b4f3"}
          }
        },
        {
          "layer": [
            {
              "mark": {"type": "rule", "strokeWidth": 2},
              "encoding": {
                "x": {"field": "t", "type": "temporal", "title": "Mar 10, 2022"},
                "y": {
                  "field": "l", "type": "quantitative", "title": "Price",
                  "scale": {"domain": [38912.7, 40590.5], "nice": false, "zero": false},
                  "axis": {
                    "orient": "left", "values": [39000, 39200, 39400, 39600, 39800, 40000, 40200, 40400], "format": "~s",
                    "grid": true, "gridColor": "#ffffff", "gridWidth": 1, "domain": false, "ticks": false,
                    "labelPadding": 2, "titlePadding": 18, "titleFontWeight": "bold"
                  }
                },
                "y2": {"field": "h"},
                "color": {"condition": {"test": "datum.c >= datum.o", "value": "#ff0000"}, "value": "#0000ff"}
              }
            },
            {
              "mark": {"type": "bar", "size": 2, "strokeWidth": 1},
              "encoding": {
                "x": {"field": "t", "type": "temporal", "title": "Mar 10, 2022"},
                "y": {"field": "o", "type": "quantitative", "title": "Price"},
                "y2": {"field": "c"},
                "fill": {"condition": {"test": "datum.c >= datum.o", "value": "#ff0000"}, "value": "#0000ff"},
                "stroke": {"condition": {"test": "datum.c >= datum.o", "value": "#ff0000"}, "value": "#0000ff"}
              }
            }
          ]
        }
      ],
      "resolve": {"scale": {"y": "independent"}}
    },
    {
      "width": 822,
      "height": 121,
      "layer": [
        {
          "mark": {"type": "bar", "size": 1.5},
          "encoding": {
            "x": {
              "field": "t", "type": "temporal", "title": null, "axis": null,
              "scale": {"padding": 0, "domain": [{"year": 2022, "month": 3, "date": 10, "hours": 8, "minutes": 59, "seconds": 45}, {"year": 2022, "month": 3, "date": 10, "hours": 15, "minutes": 30, "seconds": 15}]}
            },
            "y": {"field": "v", "type": "quantitative", "axis": null, "scale": {"domain": [-51, 16179], "nice": false, "zero": false}},
            "color": {"condition": {"test": "datum.c >= datum.o", "value": "#f3b1ba"}, "value": "#b1b4f3"}
          }
        },
        {
          "layer": [
            {
              "mark": {"type": "rule", "strokeWidth": 2},
              "encoding": {
                "x": {"field": "t", "type": "temporal", "title": null, "axis": null},
                "y": {"field": "l", "type": "quantitative", "axis": null, "scale": {"domain": [38912.7, 40590.5], "nice": false, "zero": false}},
                "y2": {"field": "h"},
                "color": {"condition": {"test": "datum.c >= datum.o", "value": "#ff0000"}, "value": "#0000ff"}
              }
            },
            {
              "mark": {"type": "bar", "size": 2, "strokeWidth": 1},
              "encoding": {
                "x": {"field": "t", "type": "temporal", "title": null, "axis": null},
                "y": {"field": "o", "type": "quantitative", "axis": null},
                "y2": {"field": "c"},
                "fill": {"condition": {"test": "datum.c >= datum.o", "value": "#ff0000"}, "value": "#0000ff"},
                "stroke": {"condition": {"test": "datum.c >= datum.o", "value": "#ff0000"}, "value": "#0000ff"}
              }
            }
          ]
        },
        {
          "data": {"values": [{"edge": "start", "t": "2022-03-10T08:59:45"}, {"edge": "end", "t": "2022-03-10T15:30:15"}]},
          "mark": {"type": "bar", "size": 4, "fill": "#ffffff", "stroke": "#666666", "strokeWidth": 1, "clip": false},
          "encoding": {
            "x": {"field": "t", "type": "temporal", "title": null, "axis": null},
            "y": {"datum": 4000, "type": "quantitative", "axis": null, "scale": {"domain": [-51, 16179], "nice": false, "zero": false}},
            "y2": {"datum": 12000}
          }
        }
      ],
      "resolve": {"scale": {"y": "independent"}}
    }
  ]
}
